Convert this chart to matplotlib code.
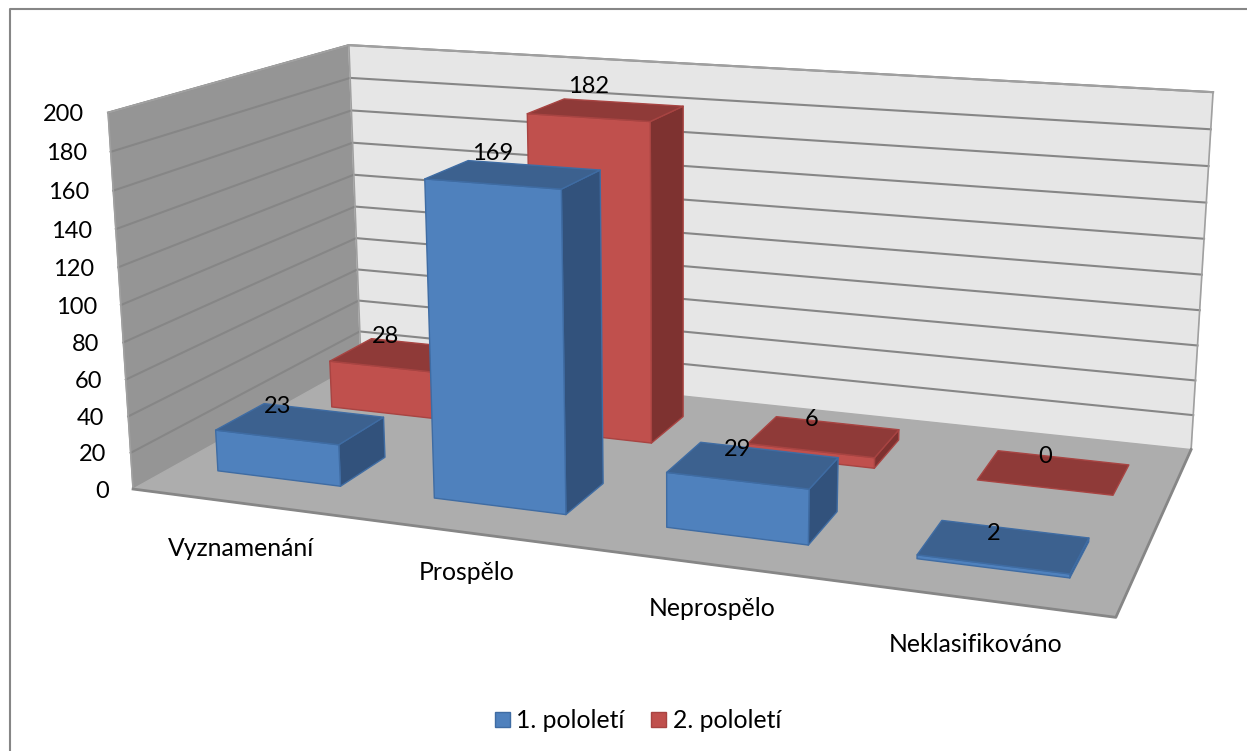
import numpy as np
import matplotlib
matplotlib.use("Agg")
import matplotlib.pyplot as plt
from matplotlib.patches import Polygon, Rectangle

categories = ["Vyznamenání", "Prospělo", "Neprospělo", "Neklasifikováno"]
series_names = ["1. pololetí", "2. pololetí"]
values_1 = [23, 169, 29, 2]
values_2 = [28, 182, 6, 0]
yticks = [0, 20, 40, 60, 80, 100, 120, 140, 160, 180, 200]

plt.rcParams['font.family'] = ['Lato', 'DejaVu Sans']
FS = 17.8
FS_NUM = 17

# box corners: (category, depth, value) -> where they land in the image
corners = [
    ((0, 0, 0), (133, 489)), ((4, 0, 0), (1116, 617)),
    ((4, 1, 0), (1191, 450)), ((0, 1, 0), (361, 362)),
    ((0, 0, 200), (108, 113)), ((0, 1, 200), (349, 45)),
    ((4, 1, 200), (1213, 92)),
]

# solve the camera matrix from the corners
rows = []
for (X, Y, Z), (u, v) in corners:
    rows.append([X, Y, Z, 1, 0, 0, 0, 0, -u*X, -u*Y, -u*Z, -u])
    rows.append([0, 0, 0, 0, X, Y, Z, 1, -v*X, -v*Y, -v*Z, -v])
P = np.linalg.svd(np.array(rows, dtype=float))[2][-1].reshape(3, 4)


def proj(x, d, z):
    h = P @ np.array([x, d, z, 1.0])
    return h[0] / h[2], h[1] / h[2]


fig = plt.figure(figsize=(12.47, 7.51), dpi=100)
ax = fig.add_axes([0, 0, 1, 1])
ax.set_xlim(0, 1247)
ax.set_ylim(751, 0)
ax.axis('off')

# chart frame is cropped: only left and top edges are in the picture
ax.plot([9.5, 9.5, 1247], [751, 9, 9], color='#868686', lw=1.5, zorder=0)

GRID = '#868686'


def face(pts, fc, ec=None, lw=1.0, z=1):
    ax.add_patch(Polygon([proj(*p) for p in pts], closed=True, fc=fc,
                         ec=ec if ec else fc, lw=lw, joinstyle='round', zorder=z))


# walls and floor
face([(0, 0, 0), (0, 1, 0), (0, 1, 200), (0, 0, 200)], '#959595')
face([(0, 1, 0), (4, 1, 0), (4, 1, 200), (0, 1, 200)], '#e6e6e6')
face([(0, 0, 0), (4, 0, 0), (4, 1, 0), (0, 1, 0)], '#adadad')

for t in yticks:
    a, b, c = proj(0, 0, t), proj(0, 1, t), proj(4, 1, t)
    if t > 0:
        ax.plot([a[0], b[0], c[0]], [a[1], b[1], c[1]], color=GRID, lw=1.5, zorder=2)
    ax.text(a[0] - 24, a[1] + 2, str(t), ha='right', va='center', fontsize=FS_NUM, zorder=9)

# box outline
for p, q in [((0, 0, 0), (0, 0, 200)), ((0, 1, 0), (0, 1, 200)), ((4, 1, 0), (4, 1, 200))]:
    a, b = proj(*p), proj(*q)
    ax.plot([a[0], b[0]], [a[1], b[1]], color='#a0a0a0', lw=1.2, zorder=2)
a, b, c = proj(0, 0, 0), proj(4, 0, 0), proj(4, 1, 0)
ax.plot([a[0], b[0], c[0]], [a[1], b[1], c[1]], color=GRID, lw=2, zorder=2)
a, b = proj(0, 0, 0), proj(0, 0, 200)
c, d = proj(0, 1, 200), proj(4, 1, 200)
ax.plot([b[0], c[0], d[0]], [b[1], c[1], d[1]], color='#a0a0a0', lw=1.5, zorder=2)


def bar(i, val, x0, x1, d0, d1, cols, zo):
    x0, x1 = i + x0, i + x1
    front, side, top, edge = cols
    if val > 0:
        face([(x1, d0, 0), (x1, d1, 0), (x1, d1, val), (x1, d0, val)], side, edge, 1.0, zo)
        face([(x0, d0, 0), (x1, d0, 0), (x1, d0, val), (x0, d0, val)], front, edge, 1.0, zo)
    face([(x0, d0, val), (x1, d0, val), (x1, d1, val), (x0, d1, val)], top, edge, 1.0, zo)
    a, b = proj(x0, d0, val), proj(x1, d0, val)
    ax.text((a[0] + b[0]) / 2, (a[1] + b[1]) / 2 - 31, str(val), ha='center',
            va='center', fontsize=FS_NUM, zorder=9)


BLUE = ('#4f81bd', '#32527c', '#3c618f', '#3f6ca3')
RED = ('#c0504d', '#7e3230', '#8f3a38', '#a84442')

for i, v in enumerate(values_2):
    bar(i, v, 0.22, 0.78, 0.645, 0.85, RED, 3 + i * 0.1)
for i, v in enumerate(values_1):
    bar(i, v, 0.205, 0.78, 0.16, 0.36, BLUE, 4 + i * 0.1)

# category labels sit under the front edge
label_xy = [(241, 548), (467, 573), (712, 608), (976, 645)]
for name, (x, y) in zip(categories, label_xy):
    ax.text(x, y, name, ha='center', va='center', fontsize=FS, zorder=9)

# legend
ax.add_patch(Rectangle((495, 712), 15, 15, fc=BLUE[0], ec=BLUE[3], lw=1))
ax.text(516, 720, series_names[0], ha='left', va='center', fontsize=FS)
ax.add_patch(Rectangle((651, 712), 15, 15, fc=RED[0], ec=RED[3], lw=1))
ax.text(673, 720, series_names[1], ha='left', va='center', fontsize=FS)

fig.savefig("out.png", dpi=100)
